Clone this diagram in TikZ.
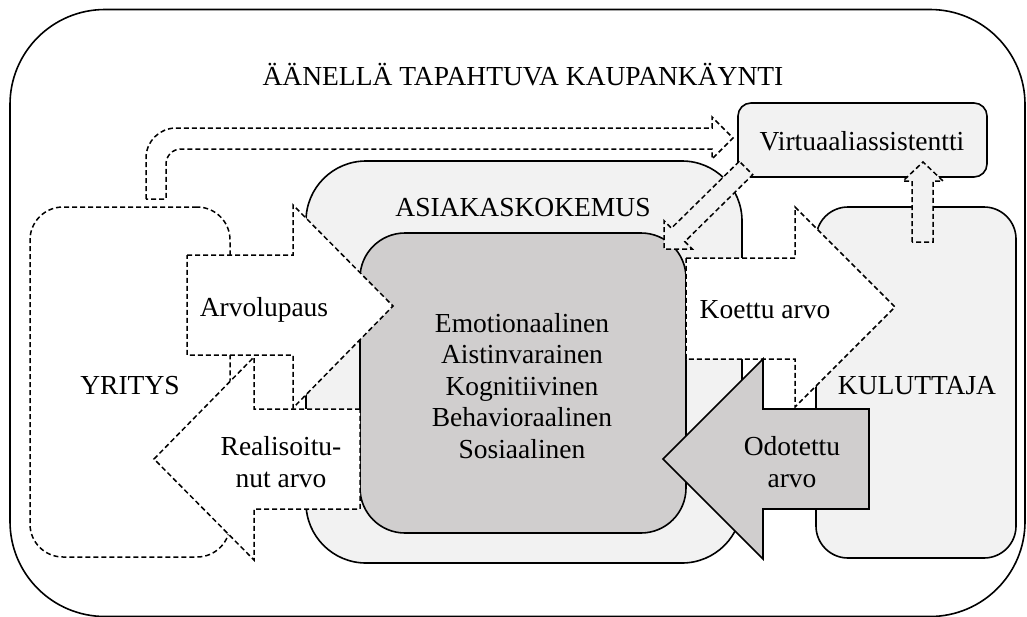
\documentclass[tikz,border=0pt]{standalone}
\usepackage{fontspec}
\setmainfont{Liberation Serif}
\definecolor{lightg}{HTML}{F2F2F2}
\definecolor{darkg}{HTML}{D0CECE}
\begin{document}
\begin{tikzpicture}[x=1pt,y=-1pt,
  solidbox/.style={draw, line width=1.6pt, fill=lightg, inner sep=0pt, outer sep=0pt},
  dashbox/.style={draw, line width=1.5pt, dash pattern=on 5pt off 3pt, fill=white, inner sep=0pt, outer sep=0pt},
  dasharrow/.style={draw, line width=1.5pt, dash pattern=on 5pt off 3pt, fill=white, line join=miter},
  greyarrow/.style={draw, line width=1.5pt, dash pattern=on 5pt off 3pt, fill=lightg, line join=miter},
  solidarrow/.style={draw, line width=1.6pt, fill=darkg, line join=miter},
  txt/.style={font=\fontsize{27.5}{31.5}\selectfont, inner sep=0pt, align=center}]
\useasboundingbox (0,0) rectangle (1027,616);
% boxes
\node[draw, line width=1.6pt, rounded corners=95pt, minimum width=1015pt, minimum height=607pt, inner sep=0pt] (outer) at (517.5,313) {};
\node[solidbox, rounded corners=60pt, minimum width=436pt, minimum height=402pt] (asiakas) at (524,362) {};
\node[solidbox, fill=darkg, rounded corners=45pt, minimum width=326pt, minimum height=300pt] (inner) at (523,383) {};
\node[dashbox, rounded corners=33pt, minimum width=200pt, minimum height=350pt] (yritys) at (130,382) {};
\node[solidbox, rounded corners=32pt, minimum width=200pt, minimum height=351pt] (kuluttaja) at (916,382.5) {};
\node[solidbox, rounded corners=13pt, minimum width=249pt, minimum height=74pt] (virtual) at (862.5,140) {};
% bent arrow from company to virtual assistant
\path[dasharrow] (146,199) -- (146,158) arc[start angle=180,end angle=270,radius=30] -- (712,128) -- (712,117) -- (733,138) -- (712,159) -- (712,149) -- (181,149) arc[start angle=270,end angle=180,radius=15] -- (166,199) -- cycle;
% Arvolupaus
\path[dasharrow] (187,255) -- (293,255) -- (293,205) -- (393,306) -- (293,408) -- (293,355) -- (187,355) -- cycle;
% Realisoitunut arvo
\path[dasharrow] (360,409) -- (254,409) -- (254,357) -- (154,459) -- (254,560) -- (254,509) -- (360,509) -- cycle;
% Koettu arvo
\path[dasharrow] (686,258) -- (795,258) -- (795,207) -- (895,307) -- (795,407) -- (795,359) -- (686,359) -- cycle;
% Odotettu arvo
\path[solidarrow] (869,409) -- (763,409) -- (763,359) -- (663,459) -- (763,559) -- (763,509) -- (869,509) -- cycle;
% virtual assistant -> experience
\path[greyarrow] (739.3,161.3) -- (671.4,228.2) -- (664,220.8) -- (664,249) -- (692.2,249) -- (684.8,241.6) -- (752.7,174.7) -- cycle;
% consumer -> virtual assistant
\path[greyarrow] (912,242) -- (912,181) -- (903,181) -- (923,162) -- (943,181) -- (933,181) -- (933,242) -- cycle;
% texts
\node[txt, anchor=base] (title) at (523,85) {ÄÄNELLÄ TAPAHTUVA KAUPANKÄYNTI};
\node[txt, anchor=base] (tasiakas) at (523,216) {ASIAKASKOKEMUS};
\node[txt, anchor=base] (tvirtual) at (862,150) {Virtuaaliassistentti};
\node[txt, anchor=base] (tyritys) at (130,394) {YRITYS};
\node[txt, anchor=base] (tkuluttaja) at (917,394) {KULUTTAJA};
\node[txt, anchor=base] (tarvolupaus) at (264,316) {Arvolupaus};
\node[txt, anchor=base] (tkoettu) at (765,318) {Koettu arvo};
\node[txt] (tinner) at (522,386) {Emotionaalinen\\Aistinvarainen\\Kognitiivinen\\Behavioraalinen\\Sosiaalinen};
\node[txt] (treal) at (281,462) {Realisoitu-\\nut arvo};
\node[txt] (todotettu) at (792,462) {Odotettu\\arvo};
\end{tikzpicture}
\end{document}
